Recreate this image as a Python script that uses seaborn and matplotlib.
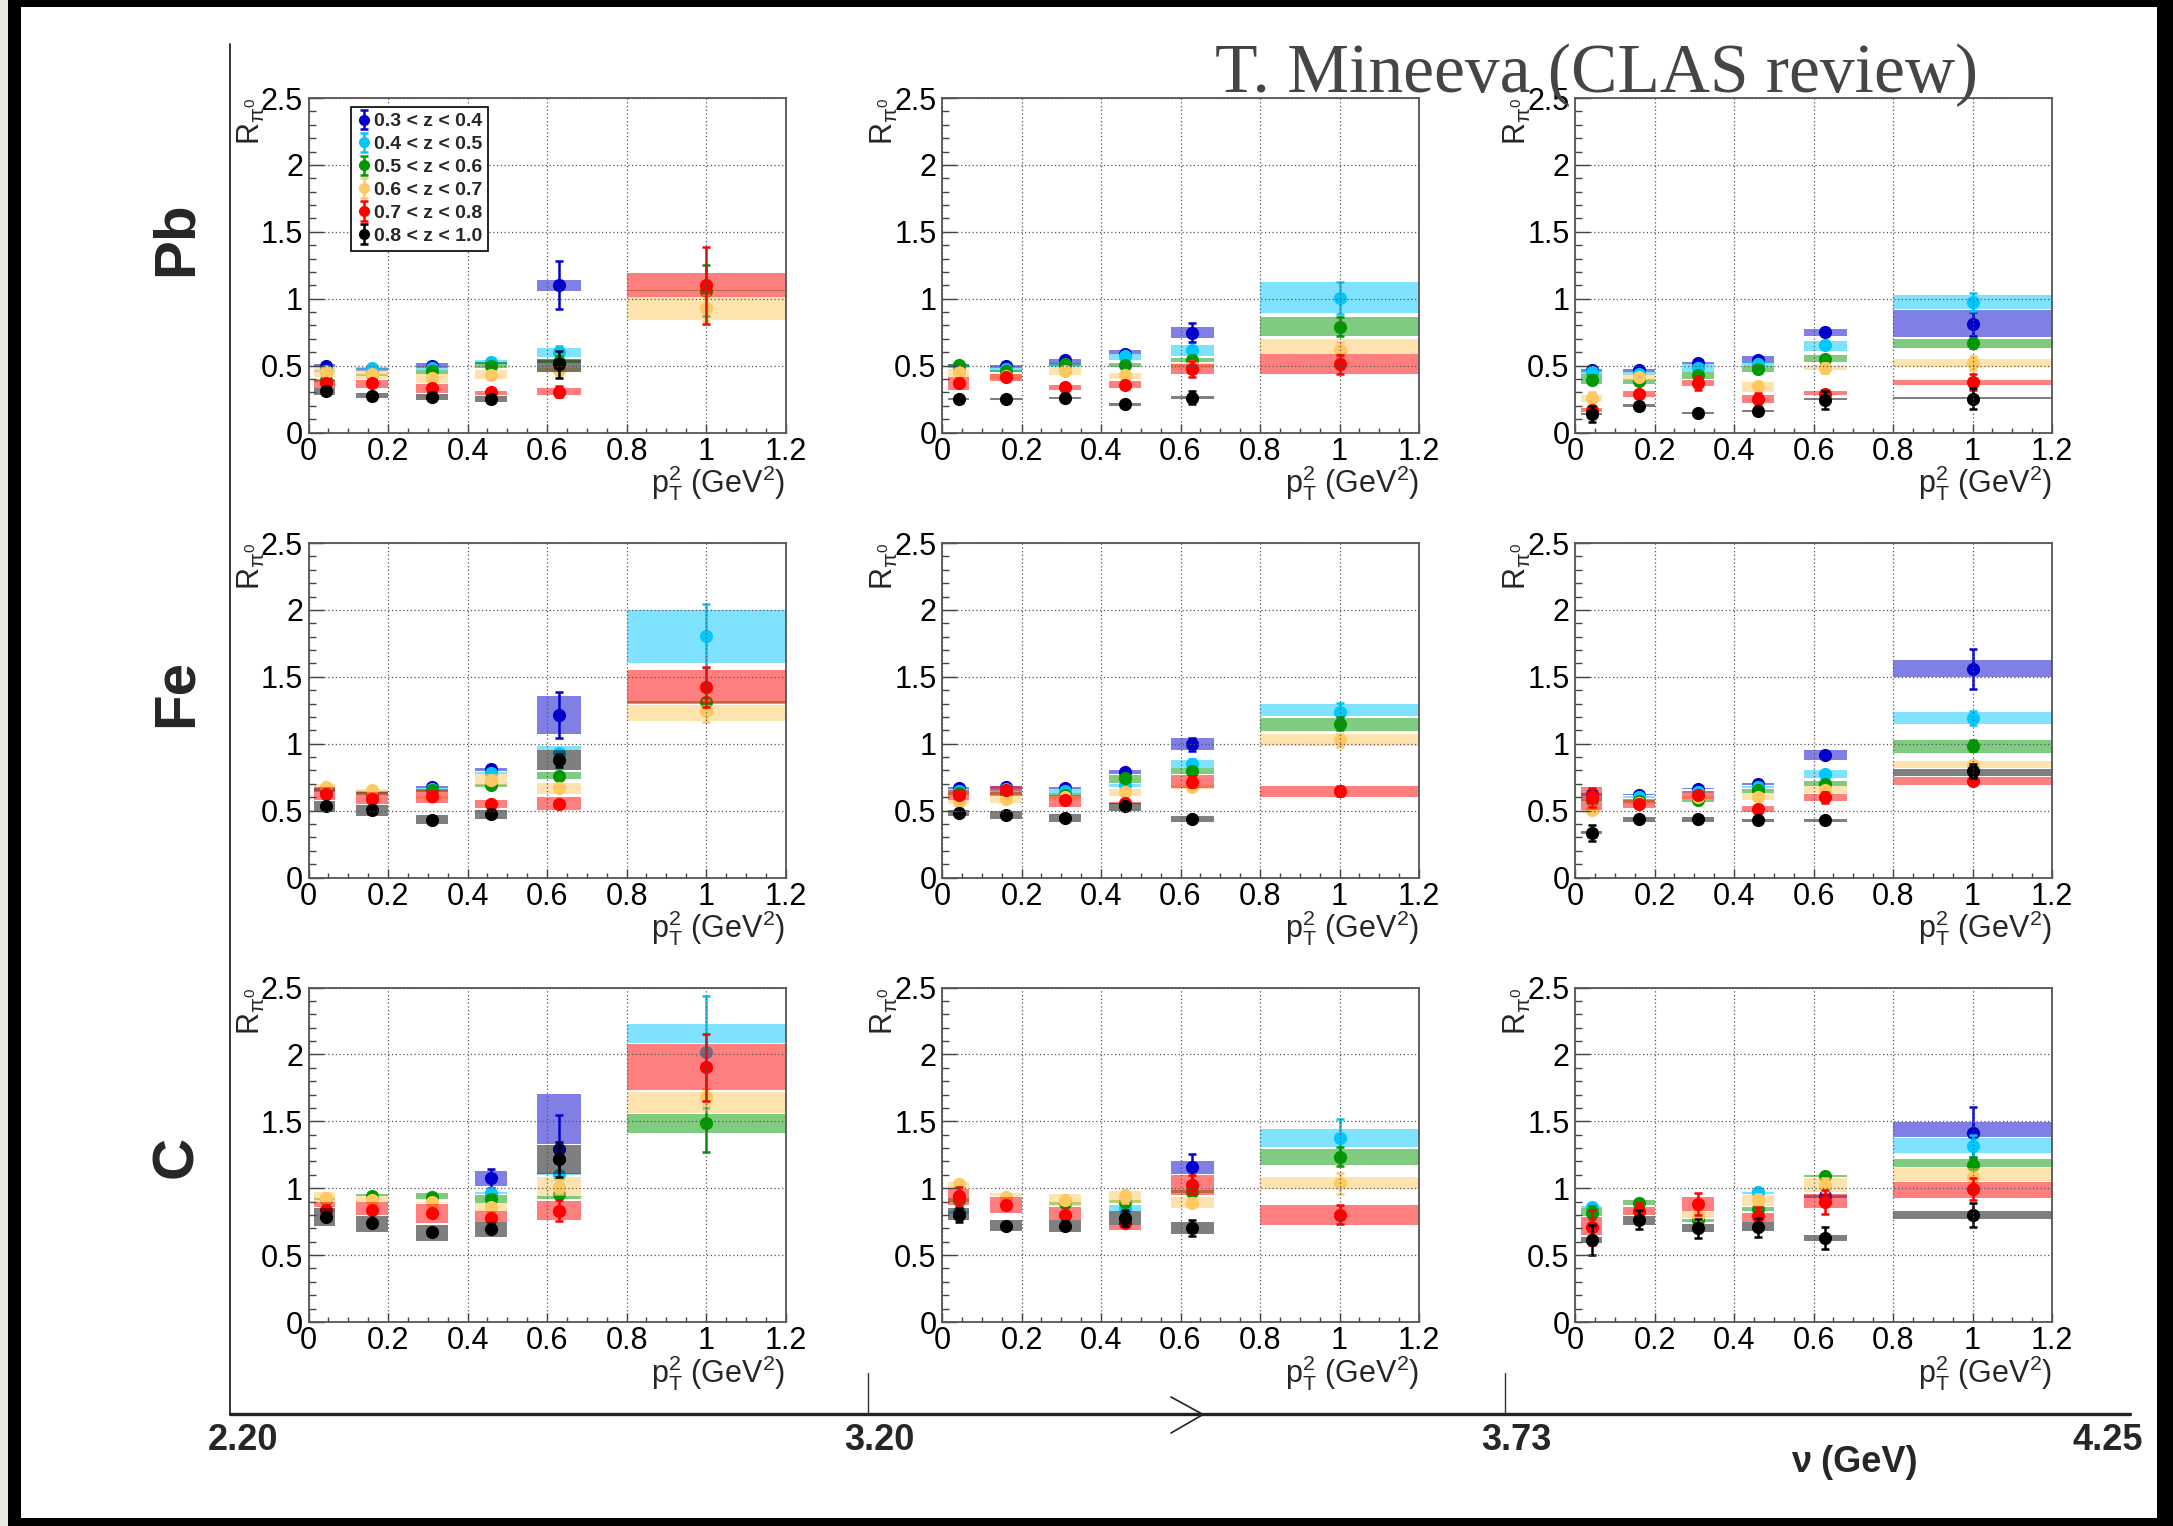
import logging
import numpy as np
import pandas as pd
import matplotlib
matplotlib.use("Agg")
import matplotlib.pyplot as plt
import seaborn as sns
from matplotlib.lines import Line2D
from matplotlib.patches import Rectangle
from matplotlib.ticker import MultipleLocator, FuncFormatter
from matplotlib.font_manager import FontProperties

logging.getLogger("matplotlib.font_manager").setLevel(logging.ERROR)

nan = np.nan

# ---------------------------------------------------------------- data
Z_BINS = ["0.3 < z < 0.4", "0.4 < z < 0.5", "0.5 < z < 0.6",
          "0.6 < z < 0.7", "0.7 < z < 0.8", "0.8 < z < 1.0"]
Z_COLORS = ["#0000cc", "#00c8ff", "#009900", "#ffc860", "#ff0000", "#000000"]
TARGETS = ["Pb", "Fe", "C"]
NU_EDGES = ["2.20", "3.20", "3.73", "4.25"]

# pT^2 bin centres and bin edges (GeV^2)
PT2 = [0.043, 0.16, 0.31, 0.46, 0.63, 1.0]
PT2_LO = [0.015, 0.12, 0.27, 0.42, 0.575, 0.80]
PT2_HI = [0.067, 0.20, 0.35, 0.50, 0.685, 1.20]

# Rows: z bins; columns: pT^2 bins.  R = value, STAT = statistical error,
# LO / HI = systematic band edges.
# ---- Pb, nu bin 1
R_PB_1 = [[0.50, 0.47, 0.50, 0.52, 1.10, nan],
          [0.46, 0.48, 0.48, 0.53, 0.60, nan],
          [0.39, 0.43, 0.46, 0.50, 0.53, 1.06],
          [0.45, 0.435, 0.41, 0.43, 0.47, 0.93],
          [0.37, 0.37, 0.335, 0.30, 0.305, 1.10],
          [0.31, 0.275, 0.265, 0.25, 0.51, nan]]
STAT_PB_1 = [[0.02, 0.02, 0.02, 0.02, 0.18, nan],
             [0.02, 0.02, 0.02, 0.02, 0.05, nan],
             [0.02, 0.02, 0.02, 0.02, 0.04, 0.19],
             [0.02, 0.02, 0.02, 0.02, 0.04, 0.10],
             [0.02, 0.02, 0.02, 0.015, 0.04, 0.29],
             [0.02, 0.02, 0.02, 0.02, 0.10, nan]]
LO_PB_1 = [[0.49, 0.46, 0.485, 0.51, 1.06, nan],
           [0.45, 0.465, 0.47, 0.515, 0.565, nan],
           [0.38, 0.42, 0.44, 0.48, 0.52, 1.055],
           [0.415, 0.40, 0.37, 0.40, 0.45, 0.84],
           [0.33, 0.33, 0.295, 0.28, 0.28, 1.01],
           [0.28, 0.255, 0.245, 0.23, 0.455, nan]]
HI_PB_1 = [[0.51, 0.48, 0.52, 0.53, 1.14, nan],
           [0.47, 0.49, 0.49, 0.54, 0.63, nan],
           [0.40, 0.44, 0.47, 0.53, 0.54, 1.065],
           [0.49, 0.465, 0.44, 0.465, 0.48, 1.01],
           [0.39, 0.395, 0.365, 0.31, 0.33, 1.195],
           [0.335, 0.295, 0.29, 0.27, 0.55, nan]]
# ---- Pb, nu bin 2
R_PB_2 = [[0.50, 0.495, 0.54, 0.585, 0.745, nan],
          [0.49, 0.478, 0.50, 0.57, 0.615, 1.005],
          [0.503, 0.46, 0.51, 0.503, 0.545, 0.79],
          [0.453, 0.42, 0.458, 0.428, 0.50, 0.615],
          [0.37, 0.415, 0.34, 0.354, 0.478, 0.51],
          [0.254, 0.254, 0.26, 0.21, 0.26, nan]]
STAT_PB_2 = [[0.02, 0.02, 0.02, 0.02, 0.07, nan],
             [0.02, 0.02, 0.02, 0.02, 0.03, 0.12],
             [0.02, 0.02, 0.02, 0.02, 0.02, 0.07],
             [0.02, 0.02, 0.02, 0.02, 0.03, 0.06],
             [0.03, 0.02, 0.02, 0.02, 0.06, 0.07],
             [0.02, 0.02, 0.02, 0.02, 0.05, nan]]
LO_PB_2 = [[0.49, 0.485, 0.51, 0.585, 0.71, nan],
           [0.48, 0.45, 0.49, 0.54, 0.573, 0.894],
           [0.49, 0.45, 0.50, 0.486, 0.528, 0.72],
           [0.416, 0.40, 0.428, 0.403, 0.48, 0.59],
           [0.316, 0.386, 0.316, 0.334, 0.44, 0.436],
           [0.245, 0.245, 0.25, 0.20, 0.252, nan]]
HI_PB_2 = [[0.51, 0.505, 0.553, 0.615, 0.79, nan],
           [0.50, 0.486, 0.51, 0.59, 0.657, 1.125],
           [0.51, 0.47, 0.52, 0.52, 0.558, 0.864],
           [0.478, 0.44, 0.49, 0.446, 0.52, 0.70],
           [0.416, 0.44, 0.354, 0.383, 0.51, 0.585],
           [0.26, 0.26, 0.268, 0.218, 0.27, nan]]
# ---- Pb, nu bin 3
R_PB_3 = [[0.466, 0.466, 0.52, 0.545, 0.752, 0.814],
          [0.453, 0.44, 0.485, 0.515, 0.652, 0.976],
          [0.396, 0.383, 0.428, 0.478, 0.553, 0.67],
          [0.26, 0.416, nan, 0.346, 0.483, 0.52],
          [0.167, 0.29, 0.371, 0.254, 0.29, 0.378],
          [0.137, 0.20, 0.147, 0.162, 0.242, 0.254]]
STAT_PB_3 = [[0.02, 0.02, 0.02, 0.02, 0.03, 0.09],
             [0.02, 0.02, 0.03, 0.02, 0.03, 0.07],
             [0.03, 0.02, 0.02, 0.02, 0.02, 0.04],
             [0.04, 0.02, nan, 0.02, 0.04, 0.05],
             [0.03, 0.03, 0.05, 0.04, 0.03, 0.06],
             [0.06, 0.03, 0.02, 0.03, 0.07, 0.08]]
LO_PB_3 = [[0.45, 0.45, 0.51, 0.52, 0.72, 0.715],
           [0.44, 0.43, 0.453, 0.50, 0.61, 0.926],
           [0.36, 0.365, 0.40, 0.453, 0.528, 0.635],
           [0.23, 0.39, nan, 0.304, 0.466, 0.486],
           [0.155, 0.266, 0.346, 0.224, 0.28, 0.354],
           [0.13, 0.19, 0.14, 0.155, 0.24, 0.25]]
HI_PB_3 = [[0.475, 0.475, 0.53, 0.57, 0.777, 0.914],
           [0.465, 0.45, 0.515, 0.53, 0.685, 1.026],
           [0.44, 0.40, 0.453, 0.495, 0.578, 0.70],
           [0.28, 0.44, nan, 0.378, 0.508, 0.553],
           [0.18, 0.31, 0.396, 0.28, 0.31, 0.39],
           [0.145, 0.21, 0.155, 0.17, 0.26, 0.266]]
# ---- Fe, nu bin 1
R_FE_1 = [[0.66, 0.64, 0.677, 0.814, 1.213, nan],
          [0.655, 0.635, 0.66, 0.78, 0.93, 1.803],
          [0.65, 0.63, 0.652, 0.69, 0.76, 1.312],
          [0.677, 0.652, 0.60, 0.732, 0.67, 1.243],
          [0.622, 0.59, 0.608, 0.548, 0.553, 1.424],
          [0.533, 0.503, 0.433, 0.478, 0.876, nan]]
STAT_FE_1 = [[0.02, 0.02, 0.02, 0.02, 0.17, nan],
             [0.02, 0.02, 0.02, 0.02, 0.03, 0.24],
             [0.02, 0.02, 0.02, 0.02, 0.02, 0.03],
             [0.02, 0.02, 0.02, 0.02, 0.02, 0.08],
             [0.02, 0.02, 0.02, 0.02, 0.02, 0.15],
             [0.02, 0.02, 0.02, 0.02, 0.05, nan]]
LO_FE_1 = [[0.65, 0.63, 0.667, 0.797, 1.076, nan],
           [0.645, 0.625, 0.65, 0.77, 0.956, 1.60],
           [0.64, 0.62, 0.64, 0.68, 0.735, 1.305],
           [0.67, 0.64, 0.59, 0.69, 0.627, 1.17],
           [0.578, 0.548, 0.558, 0.523, 0.508, 1.295],
           [0.49, 0.458, 0.40, 0.436, 0.80, nan]]
HI_FE_1 = [[0.67, 0.65, 0.687, 0.82, 1.355, nan],
           [0.665, 0.645, 0.67, 0.79, 0.98, 2.0],
           [0.66, 0.64, 0.66, 0.70, 0.79, 1.318],
           [0.70, 0.66, 0.61, 0.772, 0.71, 1.287],
           [0.677, 0.64, 0.657, 0.578, 0.60, 1.549],
           [0.57, 0.54, 0.466, 0.508, 0.95, nan]]
# ---- Fe, nu bin 2
R_FE_2 = [[0.672, 0.677, 0.67, 0.79, 0.996, nan],
          [0.65, 0.66, 0.647, 0.69, 0.852, 1.237],
          [0.63, 0.63, 0.62, 0.74, 0.797, 1.15],
          [0.565, 0.59, 0.60, 0.64, 0.677, 1.026],
          [0.62, 0.652, 0.578, 0.558, 0.715, 0.647],
          [0.483, 0.466, 0.446, 0.533, 0.44, nan]]
STAT_FE_2 = [[0.02, 0.02, 0.02, 0.02, 0.05, nan],
             [0.02, 0.02, 0.02, 0.02, 0.03, 0.07],
             [0.02, 0.02, 0.02, 0.02, 0.02, 0.05],
             [0.02, 0.02, 0.02, 0.02, 0.02, 0.05],
             [0.02, 0.02, 0.02, 0.02, 0.04, 0.04],
             [0.02, 0.02, 0.02, 0.02, 0.02, nan]]
LO_FE_2 = [[0.66, 0.665, 0.664, 0.772, 0.951, nan],
           [0.64, 0.65, 0.632, 0.677, 0.82, 1.205],
           [0.62, 0.62, 0.61, 0.707, 0.772, 1.096],
           [0.548, 0.558, 0.59, 0.61, 0.66, 0.981],
           [0.578, 0.608, 0.528, 0.55, 0.67, 0.598],
           [0.458, 0.44, 0.416, 0.498, 0.416, nan]]
HI_FE_2 = [[0.68, 0.685, 0.676, 0.80, 1.046, nan],
           [0.66, 0.67, 0.66, 0.70, 0.88, 1.30],
           [0.64, 0.64, 0.63, 0.764, 0.82, 1.195],
           [0.578, 0.608, 0.61, 0.665, 0.69, 1.071],
           [0.657, 0.685, 0.615, 0.566, 0.764, 0.685],
           [0.508, 0.495, 0.473, 0.558, 0.458, nan]]
# ---- Fe, nu bin 3
R_FE_3 = [[0.622, 0.62, 0.665, 0.697, 0.914, 1.561],
          [0.60, 0.603, 0.64, 0.677, 0.777, 1.193],
          [0.58, 0.57, 0.578, 0.652, 0.702, 0.984],
          [0.503, 0.56, 0.60, 0.603, 0.657, 0.839],
          [0.598, 0.553, 0.615, 0.515, 0.598, 0.722],
          [0.336, 0.436, 0.436, 0.428, 0.428, 0.797]]
STAT_FE_3 = [[0.02, 0.02, 0.02, 0.02, 0.02, 0.15],
             [0.02, 0.02, 0.02, 0.02, 0.02, 0.05],
             [0.02, 0.02, 0.02, 0.02, 0.02, 0.04],
             [0.02, 0.02, 0.02, 0.02, 0.02, 0.03],
             [0.07, 0.02, 0.02, 0.02, 0.04, 0.03],
             [0.06, 0.02, 0.02, 0.02, 0.02, 0.05]]
LO_FE_3 = [[0.61, 0.615, 0.66, 0.69, 0.881, 1.499],
           [0.59, 0.595, 0.63, 0.67, 0.747, 1.145],
           [0.57, 0.56, 0.565, 0.635, 0.685, 0.934],
           [0.49, 0.55, 0.59, 0.578, 0.632, 0.822],
           [0.508, 0.523, 0.583, 0.486, 0.573, 0.69],
           [0.325, 0.416, 0.416, 0.416, 0.416, 0.757]]
HI_FE_3 = [[0.63, 0.625, 0.67, 0.705, 0.956, 1.628],
           [0.61, 0.61, 0.65, 0.685, 0.807, 1.237],
           [0.59, 0.58, 0.59, 0.665, 0.72, 1.031],
           [0.515, 0.57, 0.61, 0.632, 0.682, 0.871],
           [0.677, 0.583, 0.645, 0.535, 0.627, 0.752],
           [0.345, 0.453, 0.453, 0.44, 0.44, 0.814]]
# ---- C, nu bin 1
R_C_1 = [[nan, nan, nan, 1.075, 1.29, nan],
         [nan, nan, nan, 0.963, 1.10, 2.02],
         [0.92, 0.943, 0.933, 0.918, 0.958, 1.49],
         [0.925, 0.913, 0.90, 0.858, 1.012, 1.679],
         [0.84, 0.838, 0.813, 0.776, 0.833, 1.903],
         [0.784, 0.739, 0.669, 0.694, 1.216, nan]]
STAT_C_1 = [[nan, nan, nan, 0.07, 0.26, nan],
            [nan, nan, nan, 0.02, 0.03, 0.42],
            [0.02, 0.02, 0.02, 0.02, 0.03, 0.22],
            [0.02, 0.02, 0.02, 0.02, 0.05, 0.06],
            [0.02, 0.02, 0.02, 0.02, 0.08, 0.25],
            [0.02, 0.02, 0.02, 0.02, 0.13, nan]]
LO_C_1 = [[nan, nan, nan, 1.02, 1.331, nan],
          [nan, nan, nan, 0.955, 1.095, 2.087],
          [0.91, 0.938, 0.918, 0.893, 0.918, 1.41],
          [0.90, 0.90, 0.888, 0.833, 0.943, 1.56],
          [0.863, 0.80, 0.739, 0.751, 0.759, 1.734],
          [0.719, 0.669, 0.609, 0.634, 1.107, nan]]
HI_C_1 = [[nan, nan, nan, 1.132, 1.704, nan],
          [nan, nan, nan, 0.97, 1.11, 2.226],
          [0.93, 0.955, 0.963, 0.95, 0.943, 1.555],
          [0.968, 0.938, 0.90, 0.888, 1.087, 1.721],
          [0.90, 0.90, 0.88, 0.826, 0.908, 2.077],
          [0.851, 0.794, 0.726, 0.751, 1.323, nan]]
# ---- C, nu bin 2
R_C_2 = [[nan, nan, nan, nan, 1.157, nan],
         [0.82, nan, nan, 0.851, nan, 1.378],
         [0.913, nan, 0.888, 0.90, 0.975, 1.236],
         [1.032, 0.933, 0.913, 0.938, 0.888, 1.037],
         [0.938, 0.876, 0.801, 0.739, 1.025, 0.801],
         [0.801, 0.719, 0.714, 0.776, 0.701, nan]]
STAT_C_2 = [[nan, nan, nan, nan, 0.10, nan],
            [0.02, nan, nan, 0.02, nan, 0.14],
            [0.02, nan, 0.02, 0.02, 0.02, 0.07],
            [0.02, 0.02, 0.02, 0.05, 0.02, 0.08],
            [0.07, 0.02, 0.02, 0.02, 0.07, 0.07],
            [0.05, 0.02, 0.02, 0.06, 0.06, nan]]
LO_C_2 = [[nan, nan, nan, nan, 1.107, nan],
          [0.81, nan, nan, 0.833, nan, 1.306],
          [0.90, nan, 0.878, 0.89, 0.965, 1.174],
          [1.0, 0.938, 0.868, 0.888, 0.851, 0.993],
          [0.876, 0.818, 0.764, 0.689, 0.95, 0.726],
          [0.759, 0.677, 0.669, 0.726, 0.659, nan]]
HI_C_2 = [[nan, nan, nan, nan, 1.206, nan],
          [0.83, nan, nan, 0.876, nan, 1.44],
          [0.925, nan, 0.898, 0.91, 0.985, 1.294],
          [1.05, 0.963, 0.958, 0.98, 0.933, 1.087],
          [0.995, 0.933, 0.856, 0.726, 1.095, 0.871],
          [0.851, 0.764, 0.759, 0.826, 0.746, nan]]
# ---- C, nu bin 3
R_C_3 = [[nan, nan, nan, nan, 0.938, 1.415],
         [0.863, nan, nan, 0.968, nan, 1.316],
         [0.818, 0.893, 0.759, 0.843, 1.092, 1.174],
         [nan, nan, 0.801, 0.913, 1.025, 1.082],
         [0.709, 0.833, 0.883, 0.789, 0.90, 0.993],
         [0.614, 0.764, 0.701, 0.709, 0.627, 0.801]]
STAT_C_3 = [[nan, nan, nan, nan, 0.02, 0.19],
            [0.02, nan, nan, 0.02, nan, 0.08],
            [0.05, 0.02, 0.02, 0.02, 0.02, 0.06],
            [nan, nan, 0.02, 0.04, 0.05, 0.03],
            [0.13, 0.06, 0.08, 0.07, 0.09, 0.08],
            [0.11, 0.07, 0.07, 0.07, 0.08, 0.09]]
LO_C_3 = [[nan, nan, nan, nan, 0.93, 1.386],
          [0.855, nan, nan, 0.96, nan, 1.261],
          [0.789, 0.876, 0.75, 0.826, 1.085, 1.157],
          [nan, nan, 0.776, 0.868, 0.975, 1.057],
          [0.652, 0.801, 0.833, 0.751, 0.851, 0.925],
          [0.59, 0.726, 0.669, 0.677, 0.602, 0.769]]
HI_C_3 = [[nan, nan, nan, nan, 0.95, 1.498],
          [0.87, nan, nan, 0.975, nan, 1.373],
          [0.851, 0.913, 0.77, 0.858, 1.10, 1.216],
          [nan, nan, 0.826, 0.95, 1.075, 1.149],
          [0.784, 0.863, 0.933, 0.818, 0.958, 1.05],
          [0.639, 0.794, 0.734, 0.744, 0.647, 0.833]]

PANELS = {
    ("Pb", 0): (R_PB_1, STAT_PB_1, LO_PB_1, HI_PB_1),
    ("Pb", 1): (R_PB_2, STAT_PB_2, LO_PB_2, HI_PB_2),
    ("Pb", 2): (R_PB_3, STAT_PB_3, LO_PB_3, HI_PB_3),
    ("Fe", 0): (R_FE_1, STAT_FE_1, LO_FE_1, HI_FE_1),
    ("Fe", 1): (R_FE_2, STAT_FE_2, LO_FE_2, HI_FE_2),
    ("Fe", 2): (R_FE_3, STAT_FE_3, LO_FE_3, HI_FE_3),
    ("C", 0): (R_C_1, STAT_C_1, LO_C_1, HI_C_1),
    ("C", 1): (R_C_2, STAT_C_2, LO_C_2, HI_C_2),
    ("C", 2): (R_C_3, STAT_C_3, LO_C_3, HI_C_3),
}

# ---------------------------------------------------------------- style
sns.set_theme(style="white")
SANS = "Liberation Sans"
plt.rcParams["font.family"] = ["Liberation Sans Narrow", SANS, "DejaVu Sans"]
plt.rcParams["mathtext.fontset"] = "custom"
plt.rcParams["mathtext.rm"] = SANS
plt.rcParams["mathtext.it"] = SANS + ":italic"
plt.rcParams["mathtext.bf"] = SANS + ":bold"

W, H = 2173, 1526
fig = plt.figure(figsize=(W / 100, H / 100), dpi=100)
fig.patch.set_facecolor("#ebe7e1")


def fx(px):
    return px / W


def fy(py):
    return 1 - py / H


# slide frame
fig.add_artist(Rectangle((fx(8), 0), 1 - fx(8), 1, transform=fig.transFigure,
                         facecolor="black", edgecolor="none", zorder=-10))
fig.add_artist(Rectangle((fx(21), fy(1518)), fx(2157) - fx(21), fy(7) - fy(1518),
                         transform=fig.transFigure, facecolor="white",
                         edgecolor="none", zorder=-9))

COL_LEFT = [308.5, 942.0, 1575.0]
ROW_TOP = [98.0, 543.0, 987.5]
AX_W, AX_H = 477.0, 334.5
TICK_SIZE = 22


def draw_panel(ax, vals, stats, los, his):
    x = np.asarray(PT2)
    x0 = np.asarray(PT2_LO)
    x1 = np.asarray(PT2_HI)
    containers = []
    for i, col in enumerate(Z_COLORS):
        v = np.asarray(vals[i], float)
        e = np.asarray(stats[i], float)
        lo = np.asarray(los[i], float)
        hi = np.asarray(his[i], float)
        ok = ~np.isnan(v)
        # systematic band
        ax.bar(x0[ok], (hi - lo)[ok], bottom=lo[ok], width=(x1 - x0)[ok],
               align="edge", color=col, alpha=0.5, linewidth=0, zorder=1 + 2 * i)
        # statistical error bar
        eb = ax.errorbar(x[ok], v[ok], yerr=e[ok], fmt="none", ecolor=col,
                         elinewidth=1.8, capsize=2.6, capthick=1.8,
                         zorder=2 + 2 * i)
        df = pd.DataFrame({"pT2": x[ok], "R": v[ok]})
        sns.scatterplot(data=df, x="pT2", y="R", ax=ax, color=col, s=90,
                        linewidth=0, zorder=2.1 + 2 * i, legend=False)
        containers.append(eb)
    return containers


def style_axes(ax):
    ax.set_xlim(0, 1.2)
    ax.set_ylim(0, 2.5)
    ax.set_xlabel("")
    ax.set_ylabel("")
    ax.set_facecolor("white")
    ax.xaxis.set_major_locator(MultipleLocator(0.2))
    ax.xaxis.set_minor_locator(MultipleLocator(0.05))
    ax.yaxis.set_major_locator(MultipleLocator(0.5))
    ax.yaxis.set_minor_locator(MultipleLocator(0.1))
    fmt = FuncFormatter(lambda v, p: f"{v:g}")
    ax.xaxis.set_major_formatter(fmt)
    ax.yaxis.set_major_formatter(fmt)
    ax.tick_params(which="both", direction="in", top=False, right=False,
                   bottom=True, left=True, color="#444444", labelcolor="black",
                   labelsize=TICK_SIZE, width=1.0)
    ax.tick_params(axis="y", which="major", length=11, pad=4)
    ax.tick_params(axis="y", which="minor", length=4.7)
    ax.tick_params(axis="x", which="major", length=6.5, pad=3)
    ax.tick_params(axis="x", which="minor", length=3.5)
    ax.grid(True, which="major", color="#555555", linestyle=(0, (1, 2)),
            linewidth=0.9)
    ax.xaxis.set_zorder(30)
    ax.yaxis.set_zorder(30)
    for sp in ax.spines.values():
        sp.set_visible(True)
        sp.set_color("#555555")
        sp.set_linewidth(1.3)
        sp.set_zorder(31)
    ax.text(-57.5 / AX_W, 1.0, r"$\mathrm{R}_{\mathrm{\pi}^{0}}$", rotation=90,
            ha="center", va="top", fontsize=TICK_SIZE, transform=ax.transAxes)
    ax.text(1.0, -51 / AX_H, r"$\mathrm{p}_{\mathrm{T}}^{2}$ (GeV$^{2}$)",
            ha="right", va="center", fontsize=TICK_SIZE, family=SANS,
            transform=ax.transAxes)


legend_items = None
for r, tgt in enumerate(TARGETS):
    for c in range(3):
        rect = [fx(COL_LEFT[c]), fy(ROW_TOP[r] + AX_H), AX_W / W, AX_H / H]
        ax = fig.add_axes(rect)
        conts = draw_panel(ax, *PANELS[(tgt, c)])
        style_axes(ax)
        if r == 0 and c == 0:
            legend_items = (ax, conts)

# legend in the first panel
ax0, conts = legend_items
handles = [(eb, Line2D([], [], marker="o", ls="none", color=col, markersize=7))
           for eb, col in zip(conts, Z_COLORS)]
leg = ax0.legend(handles, Z_BINS, loc="upper left",
                 bbox_to_anchor=(42.5 / AX_W, 1 - 9 / AX_H), borderaxespad=0,
                 frameon=True, fancybox=False, edgecolor="black", framealpha=1,
                 prop=FontProperties(family=SANS, weight="bold", size=14),
                 handlelength=0.7, handletextpad=0.2, labelspacing=0.27,
                 borderpad=0.3)
leg.get_frame().set_linewidth(1.2)
leg.set_zorder(40)

# target labels
for tgt, yc in zip(TARGETS, [239, 693, 1157]):
    fig.text(fx(177), fy(yc), tgt, rotation=90, ha="center", va="center",
             fontsize=42, fontweight="bold", family=SANS)

# nu axis
fig.add_artist(Line2D([fx(230), fx(230)], [fy(44), fy(1414)],
                      transform=fig.transFigure, color="#333333", lw=1.4))
fig.add_artist(Line2D([fx(230), fx(2130)], [fy(1414), fy(1414)],
                      transform=fig.transFigure, color="#222222", lw=2.4))
for xt in (868, 1505):
    fig.add_artist(Line2D([fx(xt), fx(xt)], [fy(1373), fy(1414)],
                          transform=fig.transFigure, color="#333333", lw=1.0))
fig.add_artist(Line2D([fx(1171), fx(1203), fx(1171)],
                      [fy(1397), fy(1414.5), fy(1433)],
                      transform=fig.transFigure, color="#222222", lw=1.2))
for lab, xc in zip(NU_EDGES, [243, 879, 1516, 2108]):
    fig.text(fx(xc), fy(1441), lab, ha="center", va="center", fontsize=26,
             fontweight="bold", family=SANS)
fig.text(fx(1854), fy(1462), "ν (GeV)", ha="center", va="center", fontsize=26,
         fontweight="bold", family=SANS)

# author line
fig.text(fx(1215), fy(92), "T. Mineeva (CLAS review)", ha="left",
         va="baseline", fontsize=50, color="#454545", family="Liberation Serif")

fig.savefig("out.png", dpi=100, facecolor=fig.get_facecolor())
